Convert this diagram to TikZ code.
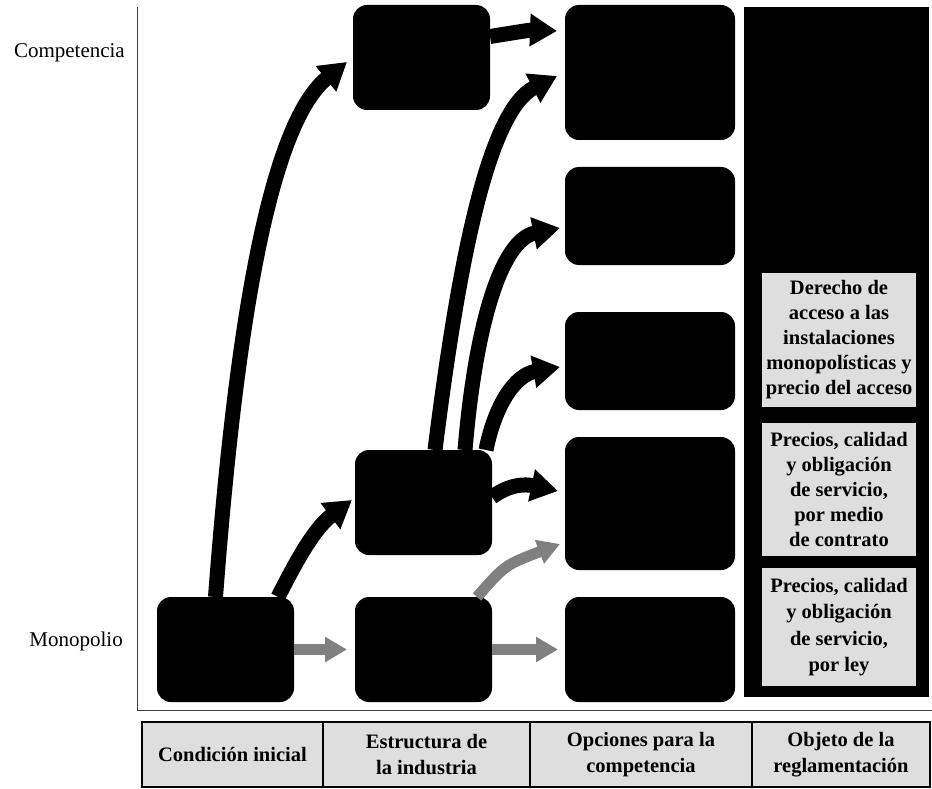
\documentclass[tikz,border=0pt]{standalone}
\usepackage{fontspec}
\setmainfont{Liberation Serif}
\usetikzlibrary{arrows.meta}
\begin{document}
\begin{tikzpicture}[x=1pt,y=-1pt,
  blk/.style={fill=black, draw=none, rounded corners=14pt, inner sep=0pt, outer sep=0pt},
  colbg/.style={fill=black, draw=none, inner sep=0pt, outer sep=0pt},
  gbox/.style={fill=black!13, draw=none, inner sep=0pt, outer sep=0pt, align=center,
    font=\fontsize{20.5}{25}\selectfont\bfseries},
  cell/.style={fill=black!13, draw=black, line width=2pt, inner sep=0pt, align=center,
    minimum height=65pt, font=\fontsize{20.5}{26}\selectfont\bfseries},
  arr/.style={line width=15pt, draw=black, -{Triangle[width=31pt,length=27pt]}},
  garr/.style={line width=11pt, draw=black!50, -{Triangle[width=24pt,length=22pt]}},
  lbl/.style={font=\fontsize{21}{25}\selectfont, anchor=east, inner sep=0pt},
  axis/.style={draw=black!75, line width=1pt}]
\useasboundingbox (0,0) rectangle (932,789);

% axes
\coordinate (axtop) at (137,7);
\coordinate (axcorner) at (137,710);
\coordinate (axright) at (932,710);
\draw[axis] (axtop) -- (axcorner) -- (axright);

% side labels
\node[lbl] (comp) at (125,53) {Competencia};
\node[lbl] (mono) at (123,641) {Monopolio};

% column 1
\node[blk, minimum width=137pt, minimum height=105pt] (c1) at (225.5,649.5) {};
% column 2
\node[blk, minimum width=137pt, minimum height=105pt] (c2t) at (421.5,57.5) {};
\node[blk, minimum width=137pt, minimum height=105pt] (c2m) at (423.5,502.5) {};
\node[blk, minimum width=137pt, minimum height=105pt] (c2b) at (423.5,649.5) {};
% column 3
\node[blk, minimum width=170pt, minimum height=135pt] (c3a) at (650,72.5) {};
\node[blk, minimum width=170pt, minimum height=98pt] (c3b) at (650,216) {};
\node[blk, minimum width=170pt, minimum height=98pt] (c3c) at (650,361) {};
\node[blk, minimum width=170pt, minimum height=133pt] (c3d) at (650,503.5) {};
\node[blk, minimum width=170pt, minimum height=105pt] (c3e) at (650,649.5) {};
% column 4
\node[colbg, minimum width=185pt, minimum height=690pt] (c4) at (836.5,352) {};
\node[gbox, minimum width=154pt, minimum height=134pt] (g1) at (839,340)
  {Derecho de\\acceso a las\\instalaciones\\monopolísticas y\\precio del acceso};
\node[gbox, minimum width=154pt, minimum height=133pt] (g2) at (839,489.5)
  {Precios, calidad\\y obligación\\de servicio,\\por medio\\de contrato};
\node[gbox, minimum width=154pt, minimum height=118pt, font=\fontsize{20.5}{26.5}\selectfont\bfseries] (g3) at (839,627)
  {Precios, calidad\\y obligación\\de servicio,\\por ley};

% black arrows
\draw[arr] ([xshift=-10pt]c1.north) .. controls (232,380) and (262,130) .. ([xshift=-6pt,yshift=-4.5pt]c2t.west);
\draw[arr] ([xshift=52.5pt]c1.north) .. controls (292,570) and (312,530) .. ([xshift=-3pt,yshift=2.5pt]c2m.west);
\draw[arr] ([yshift=21pt]c2t.east) .. controls (512,33) and (530,30) .. ([xshift=-8pt,yshift=41.5pt]c3a.west);
\draw[arr] ([xshift=11.5pt]c2m.north) .. controls (460,250) and (490,110) .. ([xshift=-8pt,yshift=-3.5pt]c3a.west);
\draw[arr] ([xshift=41.5pt]c2m.north) .. controls (475,330) and (500,240) .. ([xshift=-5pt,yshift=-12pt]c3b.west);
\draw[arr] ([xshift=62.5pt]c2m.north) .. controls (495,405) and (515,375) .. ([xshift=-5pt,yshift=-6pt]c3c.west);
\draw[arr] ([yshift=5.5pt]c2m.east) .. controls (510,484) and (525,484) .. ([xshift=-7pt,yshift=12.5pt]c3d.west);

% grey arrows
\draw[garr] (c1.east) -- ([xshift=-8pt]c2b.west);
\draw[garr] (c2b.east) -- ([xshift=-7pt]c3e.west);
\draw[garr] ([xshift=-15pt]c2b.north east) .. controls (505,565) .. ([xshift=-5pt,yshift=-40.5pt]c3d.west);

% bottom table
\node[cell, minimum width=181pt] (t1) at (232.5,754.5) {Condición inicial};
\node[cell, minimum width=207pt] (t2) at (426.5,754.5) {Estructura de\\la industria};
\node[cell, minimum width=222pt] (t3) at (641,754.5) {Opciones para la\\competencia};
\node[cell, minimum width=178pt] (t4) at (841,754.5) {Objeto de la\\reglamentación};
\end{tikzpicture}
\end{document}
